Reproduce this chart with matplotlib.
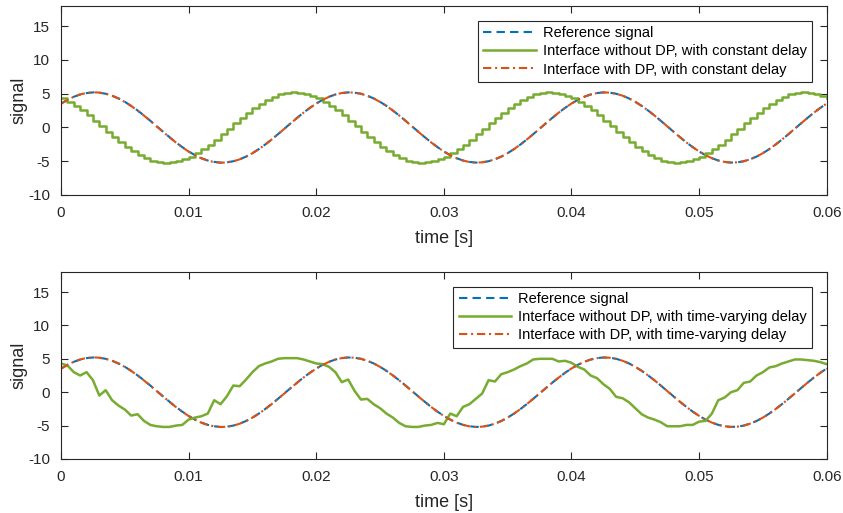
import numpy as np
import matplotlib.pyplot as plt

plt.rcParams['font.family'] = ['Liberation Sans', 'DejaVu Sans']
plt.rcParams['axes.unicode_minus'] = False

# sample instants (0.5 ms apart, 0 .. 60 ms)
dt = 0.0005
n_samples = 121

# reference signal, every 0.5 ms
ref_signal = [
    3.55, 4.10, 4.55, 4.89, 5.10, 5.20, 5.16, 5.00, 4.71, 4.31,
    3.80, 3.20, 2.52, 1.78, 0.99, 0.18, -0.63, -1.43, -2.20, -2.91,
    -3.55, -4.10, -4.55, -4.89, -5.10, -5.20, -5.16, -5.00, -4.71, -4.31,
    -3.80, -3.20, -2.52, -1.78, -0.99, -0.18, 0.63, 1.43, 2.20, 2.91,
    3.55, 4.10, 4.55, 4.89, 5.10, 5.20, 5.16, 5.00, 4.71, 4.31,
    3.80, 3.20, 2.52, 1.78, 0.99, 0.18, -0.63, -1.43, -2.20, -2.91,
    -3.55, -4.10, -4.55, -4.89, -5.10, -5.20, -5.16, -5.00, -4.71, -4.31,
    -3.80, -3.20, -2.52, -1.78, -0.99, -0.18, 0.63, 1.43, 2.20, 2.91,
    3.55, 4.10, 4.55, 4.89, 5.10, 5.20, 5.16, 5.00, 4.71, 4.31,
    3.80, 3.20, 2.52, 1.78, 0.99, 0.18, -0.63, -1.43, -2.20, -2.91,
    -3.55, -4.10, -4.55, -4.89, -5.10, -5.20, -5.16, -5.00, -4.71, -4.31,
    -3.80, -3.20, -2.52, -1.78, -0.99, -0.18, 0.63, 1.43, 2.20, 2.91,
    3.55,
]

# interface with DP (nearly on top of the reference)
dp_signal = [
    3.50, 4.08, 4.55, 4.90, 5.12, 5.22, 5.17, 5.00, 4.70, 4.30,
    3.78, 3.18, 2.50, 1.76, 0.97, 0.16, -0.65, -1.45, -2.22, -2.93,
    -3.57, -4.12, -4.57, -4.91, -5.12, -5.22, -5.17, -5.01, -4.72, -4.32,
    -3.81, -3.21, -2.53, -1.79, -1.00, -0.19, 0.62, 1.42, 2.19, 2.90,
    3.54, 4.09, 4.55, 4.90, 5.11, 5.21, 5.16, 5.00, 4.70, 4.30,
    3.79, 3.19, 2.51, 1.77, 0.98, 0.17, -0.64, -1.44, -2.21, -2.92,
    -3.56, -4.11, -4.56, -4.90, -5.11, -5.21, -5.16, -5.00, -4.71, -4.31,
    -3.80, -3.20, -2.52, -1.78, -0.99, -0.18, 0.63, 1.43, 2.20, 2.91,
    3.55, 4.10, 4.55, 4.89, 5.10, 5.20, 5.16, 5.00, 4.71, 4.31,
    3.80, 3.20, 2.52, 1.78, 0.99, 0.18, -0.63, -1.43, -2.20, -2.91,
    -3.55, -4.10, -4.55, -4.89, -5.10, -5.20, -5.16, -5.00, -4.71, -4.31,
    -3.80, -3.20, -2.52, -1.78, -0.99, -0.18, 0.63, 1.43, 2.20, 2.91,
    3.55,
]

# interface without DP, constant delay (staircase)
nodp_const = [
    4.31, 3.80, 3.20, 2.52, 1.78, 0.99, 0.18, -0.63, -1.43, -2.20,
    -2.91, -3.55, -4.10, -4.55, -4.89, -5.10, -5.20, -5.16, -5.00, -4.71,
    -4.31, -3.80, -3.20, -2.52, -1.78, -0.99, -0.18, 0.63, 1.43, 2.20,
    2.91, 3.55, 4.10, 4.55, 4.89, 5.10, 5.20, 5.16, 5.00, 4.71,
    4.31, 3.80, 3.20, 2.52, 1.78, 0.99, 0.18, -0.63, -1.43, -2.20,
    -2.91, -3.55, -4.10, -4.55, -4.89, -5.10, -5.20, -5.16, -5.00, -4.71,
    -4.31, -3.80, -3.20, -2.52, -1.78, -0.99, -0.18, 0.63, 1.43, 2.20,
    2.91, 3.55, 4.10, 4.55, 4.89, 5.10, 5.20, 5.16, 5.00, 4.71,
    4.31, 3.80, 3.20, 2.52, 1.78, 0.99, 0.18, -0.63, -1.43, -2.20,
    -2.91, -3.55, -4.10, -4.55, -4.89, -5.10, -5.20, -5.16, -5.00, -4.71,
    -4.31, -3.80, -3.20, -2.52, -1.78, -0.99, -0.18, 0.63, 1.43, 2.20,
    2.91, 3.55, 4.10, 4.55, 4.89, 5.10, 5.20, 5.16, 5.00, 4.71,
    4.31,
]

# interface without DP, time-varying delay (noisy)
nodp_varying = [
    4.3, 4.0, 3.0, 2.5, 3.0, 1.8, -0.5, 0.3, -1.2, -2.0,
    -2.6, -3.5, -3.3, -4.3, -4.9, -5.1, -5.2, -5.2, -5.0, -4.9,
    -4.1, -3.8, -3.6, -3.2, -1.2, -1.8, -0.6, 1.0, 0.9, 1.9,
    3.0, 3.9, 4.3, 4.6, 5.0, 5.1, 5.1, 5.1, 4.9, 4.6,
    4.3, 4.2, 3.8, 3.0, 1.5, 1.9, 0.2, -1.1, -1.0, -1.8,
    -2.4, -3.2, -3.8, -4.6, -5.1, -5.2, -5.2, -5.0, -4.9, -4.6,
    -4.8, -3.2, -3.6, -2.2, -1.8, -1.0, -0.2, 1.8, 1.6, 2.7,
    3.0, 3.4, 3.9, 4.3, 4.9, 5.0, 5.0, 5.0, 4.6, 4.7,
    4.4, 3.8, 3.4, 2.5, 2.1, 1.2, 0.5, -0.7, -0.9, -1.5,
    -2.4, -3.3, -3.8, -4.1, -4.5, -5.1, -5.1, -5.1, -4.9, -4.9,
    -4.4, -4.3, -3.2, -1.2, -0.8, 0.0, 0.3, 1.4, 1.6, 2.5,
    3.0, 3.7, 3.9, 4.3, 4.6, 4.9, 4.9, 4.8, 4.7, 4.5,
    4.2,
]

xticks = [0, 0.01, 0.02, 0.03, 0.04, 0.05, 0.06]
xticklabels = ["0", "0.01", "0.02", "0.03", "0.04", "0.05", "0.06"]
yticks = [-10, -5, 0, 5, 10, 15]

blue = "#0072BD"
green = "#77AC30"
red = "#D95319"
dark = "#262626"

t = np.arange(n_samples) * dt

fig = plt.figure(figsize=(8.43, 5.13), dpi=100)
ax1 = fig.add_axes([0.0724, 0.6199, 0.9083, 0.3684])
ax2 = fig.add_axes([0.0724, 0.1053, 0.9083, 0.3645])

panels = [
    (ax1, nodp_const, "steps-post",
     ["Reference signal",
      "Interface without DP, with constant delay",
      "Interface with DP, with constant delay"]),
    (ax2, nodp_varying, "default",
     ["Reference signal",
      "Interface without DP, with time-varying delay",
      "Interface with DP, with time-varying delay"]),
]

for ax, nodp, dstyle, labels in panels:
    ax.plot(t, ref_signal, color=blue, ls=(0, (4, 2.5)), lw=1.5, label=labels[0])
    ax.plot(t, nodp, color=green, lw=1.8, drawstyle=dstyle, label=labels[1])
    ax.plot(t, dp_signal, color=red, ls=(0, (4, 1.8, 1, 1.8)), lw=1.5, label=labels[2])

    ax.set_xlim(0, 0.06)
    ax.set_ylim(-10, 18)
    ax.set_xticks(xticks)
    ax.set_xticklabels(xticklabels)
    ax.set_yticks(yticks)
    ax.tick_params(direction="in", top=True, right=True, length=5,
                   labelsize=11, colors=dark, pad=8)
    for s in ax.spines.values():
        s.set_color(dark)
        s.set_linewidth(0.8)
    ax.set_xlabel("time [s]", fontsize=13, color=dark, labelpad=7)
    ax.set_ylabel("signal", fontsize=13, color=dark, labelpad=0)

    leg = ax.legend(loc="upper right", bbox_to_anchor=(0.981, 0.922),
                    fontsize=10.5, frameon=True, fancybox=False,
                    edgecolor=dark, framealpha=1, handlelength=3.6,
                    handletextpad=0.5, labelspacing=0.3, borderpad=0.35,
                    borderaxespad=0)
    leg.get_frame().set_linewidth(0.8)

fig.savefig("out.png", dpi=100)
